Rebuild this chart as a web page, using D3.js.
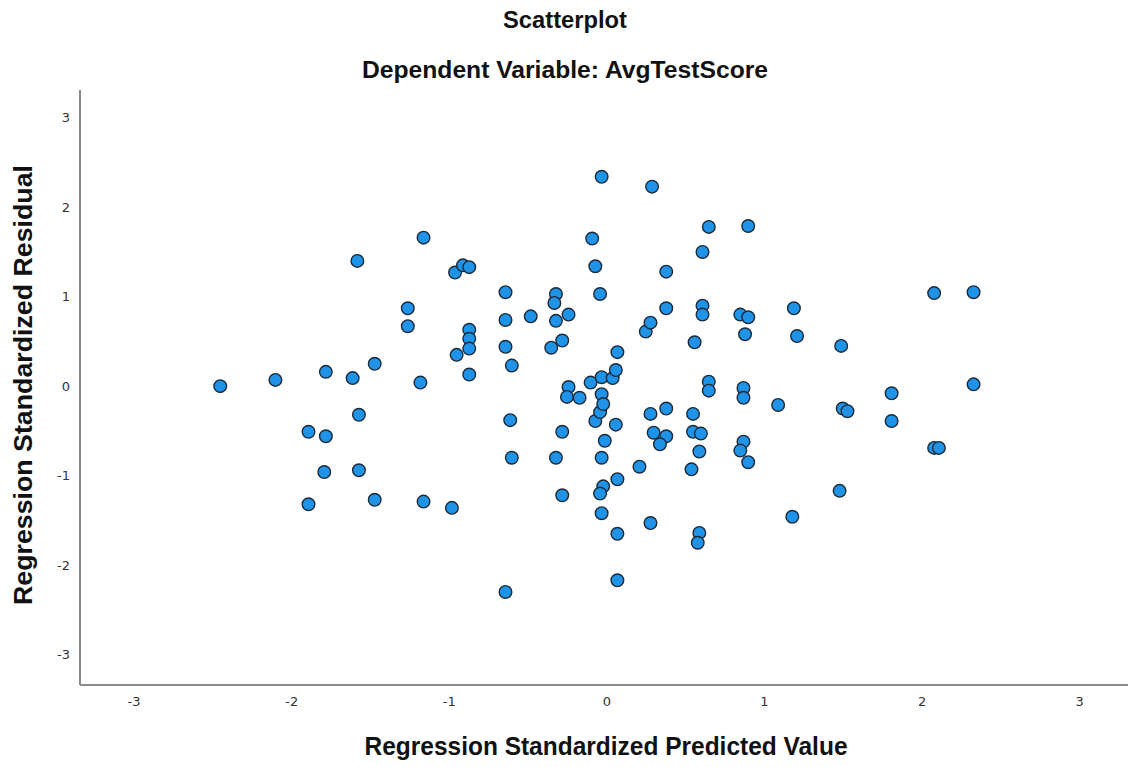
<!DOCTYPE html>
<html>
<head>
<meta charset="utf-8">
<script src="https://cdn.jsdelivr.net/npm/d3@7"></script>
<style>
  html, body { margin: 0; padding: 0; background: #fff; }
  svg { display: block; }
</style>
</head>
<body>
<svg id="chart" width="1128" height="767"></svg>
<script>
// Regression standardized predicted value (x) for each case
const predicted = [
  -2.45, -2.10, -1.89, -1.89, -1.78, -1.78, -1.79, -1.61, -1.58, -1.57,
  -1.57, -1.47, -1.47, -1.26, -1.26, -1.16, -1.18, -1.16, -0.96, -0.95,
  -0.98, -0.91, -0.87, -0.87, -0.87, -0.87, -0.87, -0.64, -0.64, -0.64,
  -0.60, -0.61, -0.60, -0.64, -0.48, -0.32, -0.33, -0.32, -0.35, -0.28,
  -0.24, -0.24, -0.25, -0.17, -0.28, -0.32, -0.28, -0.09, -0.07, -0.04,
  -0.03, -0.10, -0.03, -0.07, -0.04, -0.03, -0.02, -0.01, -0.03, -0.02,
  -0.04, -0.03, 0.04, 0.07, 0.06, 0.06, 0.07, 0.07, 0.07, 0.21,
  0.29, 0.25, 0.28, 0.28, 0.30, 0.28, 0.38, 0.38, 0.38, 0.38,
  0.34, 0.56, 0.61, 0.55, 0.55, 0.54, 0.59, 0.58, 0.61, 0.61,
  0.60, 0.59, 0.65, 0.65, 0.65, 0.90, 0.85, 0.90, 0.88, 0.87,
  0.87, 0.87, 0.85, 0.90, 1.09, 1.19, 1.21, 1.18, 1.49, 1.50,
  1.53, 1.48, 1.81, 1.81, 2.08, 2.08, 2.11, 2.33, 2.33
];

// Regression standardized residual (y) for each case
const residual = [
  0.00, 0.07, -0.51, -1.32, 0.16, -0.56, -0.96, 0.09, 1.40, -0.32,
  -0.94, 0.25, -1.27, 0.87, 0.67, 1.66, 0.04, -1.29, 1.27, 0.35,
  -1.36, 1.35, 1.33, 0.63, 0.53, 0.42, 0.13, 1.05, 0.74, 0.44,
  0.23, -0.38, -0.80, -2.30, 0.78, 1.03, 0.93, 0.73, 0.43, 0.51,
  0.80, -0.01, -0.12, -0.13, -0.51, -0.80, -1.22, 1.65, 1.34, 1.03,
  2.34, 0.04, 0.10, -0.39, -0.29, -0.09, -0.20, -0.61, -0.80, -1.12,
  -1.20, -1.42, 0.09, 0.38, 0.18, -0.43, -1.04, -1.65, -2.17, -0.90,
  2.23, 0.61, 0.71, -0.31, -0.52, -1.53, 1.28, 0.87, -0.25, -0.56,
  -0.65, 0.49, 1.50, -0.31, -0.51, -0.93, -1.64, -1.75, 0.90, 0.80,
  -0.53, -0.73, 1.78, 0.05, -0.05, 1.79, 0.80, 0.77, 0.58, -0.02,
  -0.13, -0.62, -0.72, -0.85, -0.21, 0.87, 0.56, -1.46, 0.45, -0.25,
  -0.28, -1.17, -0.08, -0.39, 1.04, -0.69, -0.69, 1.05, 0.02
];

const xTicks = [-3, -2, -1, 0, 1, 2, 3];
const yTicks = [-3, -2, -1, 0, 1, 2, 3];

const titleText = "Scatterplot";
const subtitleText = "Dependent Variable: AvgTestScore";
const xAxisTitle = "Regression Standardized Predicted Value";
const yAxisTitle = "Regression Standardized Residual";

const svg = d3.select("#chart");
const plot = { left: 80, right: 1128, top: 90, bottom: 685 };

const x = d3.scaleLinear().domain([-3.34, 3.31]).range([plot.left, plot.right]);
const y = d3.scaleLinear().domain([-3.34, 3.31]).range([plot.bottom, plot.top]);

const titleFont = "'Liberation Sans Narrow', 'Liberation Sans', Arial, sans-serif";
const tickFont = "'DejaVu Sans', 'Noto Sans', sans-serif";

// Titles
svg.append("text")
  .attr("x", 565).attr("y", 28)
  .attr("text-anchor", "middle")
  .attr("font-family", titleFont).attr("font-weight", "bold")
  .attr("font-size", 23).attr("fill", "#111")
  .attr("textLength", 124).attr("lengthAdjust", "spacingAndGlyphs")
  .text(titleText);

svg.append("text")
  .attr("x", 565).attr("y", 78)
  .attr("text-anchor", "middle")
  .attr("font-family", titleFont).attr("font-weight", "bold")
  .attr("font-size", 23).attr("fill", "#111")
  .attr("textLength", 406).attr("lengthAdjust", "spacingAndGlyphs")
  .text(subtitleText);

// Axes: lines only, tick labels without tick marks (plain hyphen for negatives)
const plainInt = d => String(d);
const xAxis = d3.axisBottom(x).tickValues(xTicks).tickSize(0).tickPadding(12).tickFormat(plainInt);
const yAxis = d3.axisLeft(y).tickValues(yTicks).tickSize(0).tickPadding(10).tickFormat(plainInt);

const gx = svg.append("g").attr("transform", `translate(0,${plot.bottom})`).call(xAxis);
const gy = svg.append("g").attr("transform", `translate(${plot.left},0)`).call(yAxis);

[gx, gy].forEach(g => {
  g.select(".domain").attr("stroke", "#8a8a8a").attr("stroke-width", 2);
  g.selectAll("text")
    .attr("font-family", tickFont).attr("font-size", 13).attr("fill", "#333");
});
gx.select(".domain").attr("d", `M${plot.left},0H${plot.right}`);
gy.select(".domain").attr("d", `M0,${plot.top}V${plot.bottom}`);

// Axis titles
svg.append("text")
  .attr("x", 606).attr("y", 755)
  .attr("text-anchor", "middle")
  .attr("font-family", titleFont).attr("font-weight", "bold")
  .attr("font-size", 25).attr("fill", "#111")
  .attr("textLength", 483).attr("lengthAdjust", "spacingAndGlyphs")
  .text(xAxisTitle);

svg.append("text")
  .attr("transform", `translate(32,385) rotate(-90)`)
  .attr("text-anchor", "middle")
  .attr("font-family", titleFont).attr("font-weight", "bold")
  .attr("font-size", 25).attr("fill", "#111")
  .attr("textLength", 440).attr("lengthAdjust", "spacingAndGlyphs")
  .text(yAxisTitle);

// Scatter points
const points = predicted.map((p, i) => ({ p, r: residual[i] }));
svg.append("g")
  .selectAll("circle")
  .data(points)
  .join("circle")
  .attr("cx", d => x(d.p))
  .attr("cy", d => y(d.r))
  .attr("r", 6.3)
  .attr("fill", "#1f93e8")
  .attr("stroke", "#1b2a38")
  .attr("stroke-width", 1.4);
</script>
</body>
</html>
